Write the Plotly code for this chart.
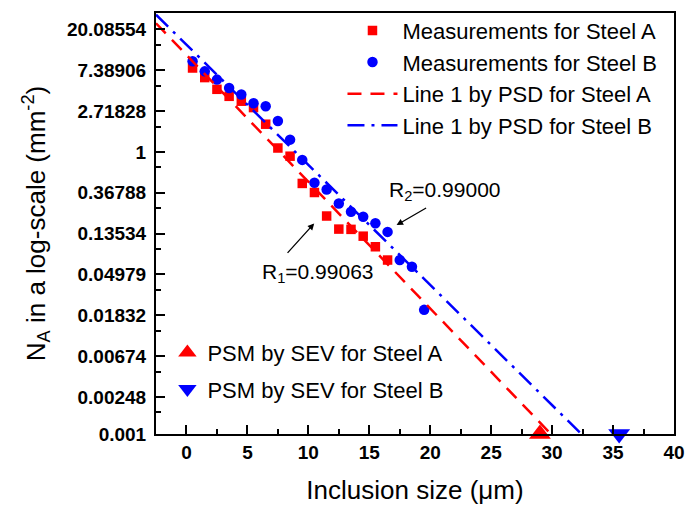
import numpy as np
import plotly.graph_objects as go

# ---- data ----
size_A = [0.5, 1.5, 2.5, 3.5, 4.5, 5.5, 6.5, 7.5, 8.5, 9.5, 10.5, 11.5, 12.5, 13.5, 14.5, 15.5, 16.5]
na_A = [7.80, 6.17, 4.63, 3.90, 3.46, 2.96, 1.97, 1.10, 0.90, 0.462, 0.370, 0.208, 0.151, 0.150, 0.127, 0.098, 0.0708]

size_B = [0.5, 1.5, 2.5, 3.5, 4.5, 5.5, 6.5, 7.5, 8.5, 9.5, 10.5, 11.5, 12.5, 13.5, 14.5, 15.5, 16.5, 17.5, 18.5, 19.5]
na_B = [9.19, 7.19, 5.87, 4.78, 4.07, 3.29, 3.06, 2.13, 1.35, 0.822, 0.469, 0.399, 0.283, 0.231, 0.204, 0.174, 0.141, 0.0708, 0.060, 0.0209]

lineA_x = [-2.5, 29.9]
lineA_y = [23.3, 0.001]
lineB_x = [-2.5, 32.4]
lineB_y = [28.8, 0.001]

psm_A_x = [29.0]
psm_A_y = [0.001]
psm_B_x = [35.5]
psm_B_y = [0.001]

y_tickvals = [20.08554, 7.38906, 2.71828, 1, 0.36788, 0.13534, 0.04979, 0.01832, 0.00674, 0.00248, 0.001]
y_ticktext = ["20.08554", "7.38906", "2.71828", "1", "0.36788", "0.13534", "0.04979", "0.01832", "0.00674", "0.00248", "0.001"]
y_minor = [v * 0.684 for v in y_tickvals[:-1]]

x_tickvals = [0, 5, 10, 15, 20, 25, 30, 35, 40]

FONT = "Arial, Liberation Sans, sans-serif"
RED = "#FF0000"
BLUE = "#0000FF"

fig = go.Figure()
fig.add_trace(go.Scatter(x=size_A, y=na_A, mode="markers", name="Measurements for Steel A",
                         marker=dict(symbol="square", size=9.5, color=RED), legend="legend"))
fig.add_trace(go.Scatter(x=size_B, y=na_B, mode="markers", name="Measurements for Steel B",
                         marker=dict(symbol="circle", size=10.5, color=BLUE), legend="legend"))
fig.add_trace(go.Scatter(x=lineA_x, y=lineA_y, mode="lines", name="Line 1 by PSD for Steel A",
                         line=dict(color=RED, width=2.5, dash="14px,9px"), legend="legend"))
fig.add_trace(go.Scatter(x=lineB_x, y=lineB_y, mode="lines", name="Line 1 by PSD for Steel B",
                         line=dict(color=BLUE, width=2.5, dash="17px,7px,3px,7px"), legend="legend"))
fig.add_trace(go.Scatter(x=psm_A_x, y=psm_A_y, mode="markers", name="PSM by SEV for Steel A",
                         marker=dict(symbol="triangle-up", size=19, color=RED), cliponaxis=False,
                         legend="legend2", legendgroup="a"))
fig.add_trace(go.Scatter(x=psm_B_x, y=psm_B_y, mode="markers", name="PSM by SEV for Steel B",
                         marker=dict(symbol="triangle-down", size=19, color=BLUE), cliponaxis=False,
                         legend="legend2", legendgroup="b"))

axis_common = dict(showgrid=False, zeroline=False, showline=True, linecolor="black", linewidth=2,
                   mirror=True, ticks="inside", tickcolor="black", tickwidth=2, automargin=False,
                   tickfont=dict(family=FONT, size=19, color="black", weight="bold"))

fig.update_xaxes(range=[-2.5, 40], tickvals=x_tickvals, ticklen=9,
                 minor=dict(dtick=2.5, tick0=0, ticks="inside", ticklen=5, tickwidth=2, tickcolor="black"),
                 title=dict(text="Inclusion size (μm)", font=dict(family=FONT, size=26, color="black"), standoff=19),
                 **axis_common)
fig.update_yaxes(type="log", range=[np.log10(0.001), np.log10(30)], tickvals=y_tickvals, ticktext=y_ticktext,
                 ticklen=9, ticklabelstandoff=4,
                 minor=dict(tickmode="array", tickvals=y_minor, ticks="inside", ticklen=5, tickwidth=2, tickcolor="black"),
                 title=dict(text="N<sub>A</sub> in a log-scale (mm<sup>-2</sup>)", font=dict(family=FONT, size=26, color="black"), standoff=14),
                 **axis_common)

ann_font = dict(family=FONT, size=21, color="black")
fig.add_annotation(x=17.24, y=np.log10(0.1666), ax=31, ay=-18, text="", showarrow=True,
                   arrowhead=2, arrowsize=1, arrowwidth=1.3, arrowcolor="black")
fig.add_annotation(x=10.48, y=np.log10(0.1736), ax=-28, ay=31, text="", showarrow=True,
                   arrowhead=2, arrowsize=1, arrowwidth=1.3, arrowcolor="black")
fig.add_annotation(x=16.42, y=np.log10(0.3825), text="R<sub>2</sub>=0.99000", showarrow=False,
                   xanchor="left", yanchor="middle", font=ann_font)
fig.add_annotation(x=6.02, y=np.log10(0.0515), text="R<sub>1</sub>=0.99063", showarrow=False,
                   xanchor="left", yanchor="middle", font=ann_font)

fig.update_layout(
    width=686, height=506,
    margin=dict(l=156, r=12, t=13, b=72, autoexpand=False),
    paper_bgcolor="white", plot_bgcolor="white",
    font=dict(family=FONT, color="black"),
    legend=dict(x=0.36, y=1.008, xanchor="left", yanchor="top", bgcolor="rgba(0,0,0,0)",
                font=dict(family=FONT, size=22, color="black"), itemwidth=50, tracegroupgap=0),
    legend2=dict(x=0.022, y=0.243, xanchor="left", yanchor="top", bgcolor="rgba(0,0,0,0)",
                 font=dict(family=FONT, size=22, color="black"), tracegroupgap=5),
)

fig.write_html("out.html")
